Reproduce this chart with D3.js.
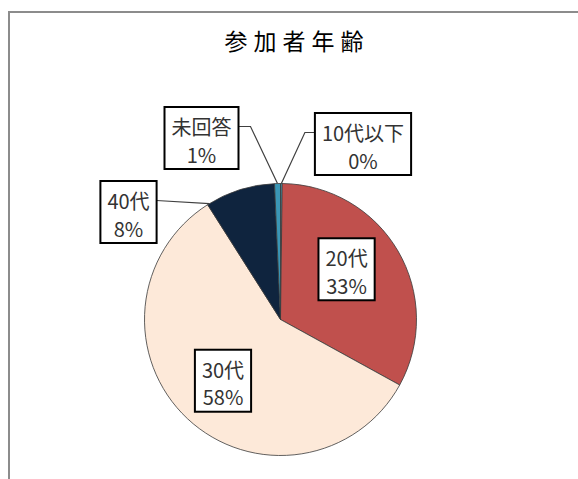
<!DOCTYPE html>
<html>
<head>
<meta charset="utf-8">
<script src="https://cdn.jsdelivr.net/npm/d3@7"></script>
<style>
  body { margin: 0; background: #fff; }
  text { font-family: "Noto Sans CJK JP", "Noto Sans", sans-serif; }
</style>
</head>
<body>
<div id="chart"></div>
<script>
// data
var categories = ["10代以下", "20代", "30代", "40代", "未回答"];
var values = [0.2, 32.8, 58.0, 8.3, 0.7];
var colors = ["#4BACC6", "#C0504D", "#FDE9D9", "#0F243E", "#3A96B6"];

var w = 578, h = 479;
var cx = 280.5, cy = 319.5, r = 136;

var dataset = categories.map(function(c, i) { return { name: c, value: values[i] }; });
var total = d3.sum(values);

var svg = d3.select("#chart").append("svg")
  .attr("width", w)
  .attr("height", h);

// chart frame
svg.append("rect")
  .attr("x", 9).attr("y", 12)
  .attr("width", 620).attr("height", 520)
  .attr("fill", "#fff")
  .attr("stroke", "#8c8c8c")
  .attr("stroke-width", 2);

svg.append("text")
  .attr("x", 297).attr("y", 40)
  .attr("text-anchor", "middle")
  .attr("dominant-baseline", "central")
  .attr("font-size", 23)
  .attr("letter-spacing", 6)
  .attr("fill", "#000")
  .text("参加者年齢");

var pie = d3.pie().sort(null).value(function(d) { return d.value; });
var arcs = pie(dataset);
var arc = d3.arc().innerRadius(0).outerRadius(r);

var g = svg.append("g").attr("transform", "translate(" + cx + "," + cy + ")");

g.selectAll("path.slice")
  .data(arcs)
  .enter().append("path")
  .attr("class", "slice")
  .attr("d", arc)
  .attr("fill", function(d, i) { return colors[i]; })
  .attr("stroke", "#3a3a3a")
  .attr("stroke-width", 0.8);

function polar(a, rad) { return [rad * Math.sin(a), -rad * Math.cos(a)]; }

// label layout: inside labels placed by angle, outside ones by box centre + leader
var layout = {
  "20代":    { inside: true, shift: -7, rad: 83 },
  "30代":    { inside: true, shift: 0, rad: 84 },
  "40代":    { box: [128.5 - cx, 212 - cy], side: "right", at: 0.03 },
  "未回答":  { box: [201.5 - cx, 138 - cy], side: "right", at: 0.5, elbow: 12 },
  "10代以下": { box: [363 - cx, 144 - cy], side: "left", at: 0.5, elbow: 10 }
};

var boxH = 62;

arcs.forEach(function(d) {
  var L = layout[d.data.name];
  var c;
  if (L.inside) {
    var mid = (d.startAngle + d.endAngle) / 2 + L.shift * Math.PI / 180;
    c = polar(mid, L.rad);
  } else {
    c = L.box;
  }
  var lg = g.append("g");
  var rect = lg.append("rect")
    .attr("fill", "#fff")
    .attr("stroke", "#000")
    .attr("stroke-width", 2);
  var t1 = lg.append("text")
    .attr("x", c[0]).attr("y", c[1] - boxH / 2 + 19.5)
    .attr("text-anchor", "middle")
    .attr("dominant-baseline", "central")
    .attr("font-size", 20)
    .attr("fill", "#333")
    .text(d.data.name);
  var t2 = lg.append("text")
    .attr("x", c[0]).attr("y", c[1] - boxH / 2 + 47)
    .attr("text-anchor", "middle")
    .attr("dominant-baseline", "central")
    .attr("font-size", 20)
    .attr("fill", "#333")
    .text(Math.round(d.data.value / total * 100) + "%");
  var tw = Math.max(t1.node().getComputedTextLength(), t2.node().getComputedTextLength());
  var bw = tw + 14;
  rect.attr("x", c[0] - bw / 2).attr("y", c[1] - boxH / 2)
    .attr("width", bw).attr("height", boxH);

  if (!L.inside) {
    var a = d.startAngle + (d.endAngle - d.startAngle) * L.at;
    var p = polar(a, r);
    var ex = L.side === "right" ? c[0] + bw / 2 : c[0] - bw / 2;
    var ey = c[1] - boxH / 2 + 19.5;
    var pts = [[ex, ey]];
    if (L.elbow) pts.push([ex + (L.side === "right" ? L.elbow : -L.elbow), ey]);
    pts.push(p);
    g.insert("path", "g")
      .attr("d", d3.line()(pts))
      .attr("fill", "none")
      .attr("stroke", "#404040")
      .attr("stroke-width", 1.2);
  }
});
</script>
</body>
</html>
